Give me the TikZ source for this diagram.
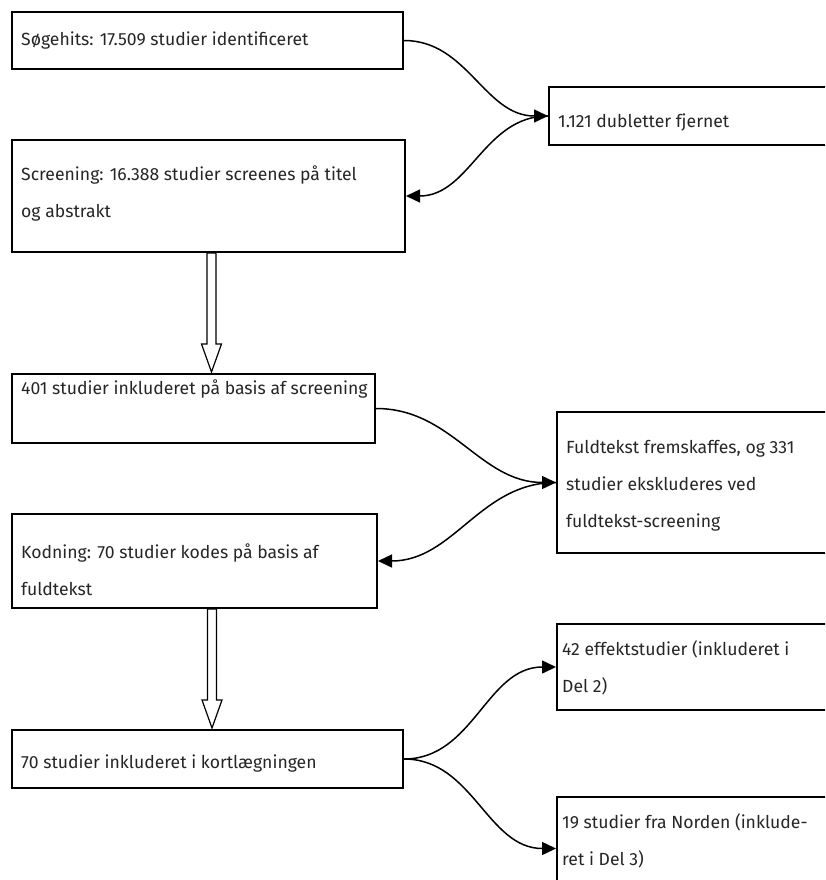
\documentclass[tikz,border=0pt]{standalone}
\usepackage{fontspec}
\setmainfont{Fira Sans}
\usetikzlibrary{arrows.meta,calc}
\begin{document}
\begin{tikzpicture}[x=1pt,y=-1pt,
  box/.style={draw=black,line width=2pt,rectangle,inner sep=0pt},
  txt/.style={anchor=base west,inner sep=0pt,align=left,text=black!85,font=\fontsize{17.6}{37}\selectfont},
  conn/.style={draw=black,line width=1.5pt,-{Triangle[length=14pt,width=13pt]}},
  hol/.style={draw=black,line width=1.2pt,fill=white,line join=miter}]
\clip (0,0) rectangle (825,880);
\fill[white] (0,0) rectangle (825,880);
% boxes
\node[box,minimum width=391,minimum height=57] (b1) at (207.5,40.5) {};
\node[box,minimum width=393,minimum height=112] (b2) at (208.5,196) {};
\node[box,minimum width=291,minimum height=58] (b3) at (694.5,116) {};
\node[box,minimum width=363,minimum height=69] (b4) at (193.5,408.5) {};
\node[box,minimum width=365,minimum height=94] (b5) at (194.5,561) {};
\node[box,minimum width=283,minimum height=141] (b6) at (698.5,482.5) {};
\node[box,minimum width=391,minimum height=58] (b7) at (207.5,759) {};
\node[box,minimum width=283,minimum height=86] (b8) at (698.5,667) {};
\node[box,minimum width=283,minimum height=103] (b9) at (698.5,848.5) {};
% texts (base anchor = last line baseline)
\node[txt] (t1) at ($(b1.north west)+(10,35)$) {Søgehits: 17.509 studier identificeret};
\node[txt] (t2) at ($(b2.north west)+(10,78)$) {Screening: 16.388 studier screenes på titel\\og abstrakt};
\node[txt] (t3) at ($(b3.north west)+(10,42)$) {1.121 dubletter fjernet};
\node[txt] (t4) at ($(b4.north west)+(10,21)$) {401 studier inkluderet på basis af screening};
\node[txt] (t5) at ($(b5.north west)+(10,82)$) {Kodning: 70 studier kodes på basis af\\fuldtekst};
\node[txt] (t6) at ($(b6.north west)+(10,116)$) {Fuldtekst fremskaffes, og 331\\studier ekskluderes ved\\fuldtekst-screening};
\node[txt] (t7) at ($(b7.north west)+(10,39)$) {70 studier inkluderet i kortlægningen};
\node[txt] (t8) at ($(b8.north west)+(6,69)$) {42 effektstudier (inkluderet i\\Del 2)};
\node[txt] (t9) at ($(b9.north west)+(6,69)$) {19 studier fra Norden (inklude-\\ret i Del 3)};
% curved connectors
\draw[conn] (b1.east) to[out=0,in=180] (b3.west);
\draw[conn] (b3.west) to[out=180,in=0] (b2.east);
\draw[conn] (b4.east) to[out=0,in=180] (b6.west);
\draw[conn] (b6.west) to[out=180,in=0] (b5.east);
\draw[conn] (b7.east) to[out=0,in=180] (b8.west);
\draw[conn] (b7.east) to[out=0,in=180] (b9.west);
% hollow arrows
\draw[hol] let \p1=(b2.south), \p2=(b4.north) in
  (\x1-1.5pt,\y1) -- (\x1-1.5pt,\y2+29pt) -- (\x1-7pt,\y2+29pt) -- (\x1+3pt,\y2+1pt)
  -- (\x1+13pt,\y2+29pt) -- (\x1+7.5pt,\y2+29pt) -- (\x1+7.5pt,\y1) -- cycle;
\draw[hol] let \p1=(b5.south), \p2=(b7.north) in
  (\x1+13pt,\y1) -- (\x1+13pt,\y2+29pt) -- (\x1+7.5pt,\y2+29pt) -- (\x1+17.5pt,\y2+1pt)
  -- (\x1+27.5pt,\y2+29pt) -- (\x1+22pt,\y2+29pt) -- (\x1+22pt,\y1) -- cycle;
\end{tikzpicture}
\end{document}
